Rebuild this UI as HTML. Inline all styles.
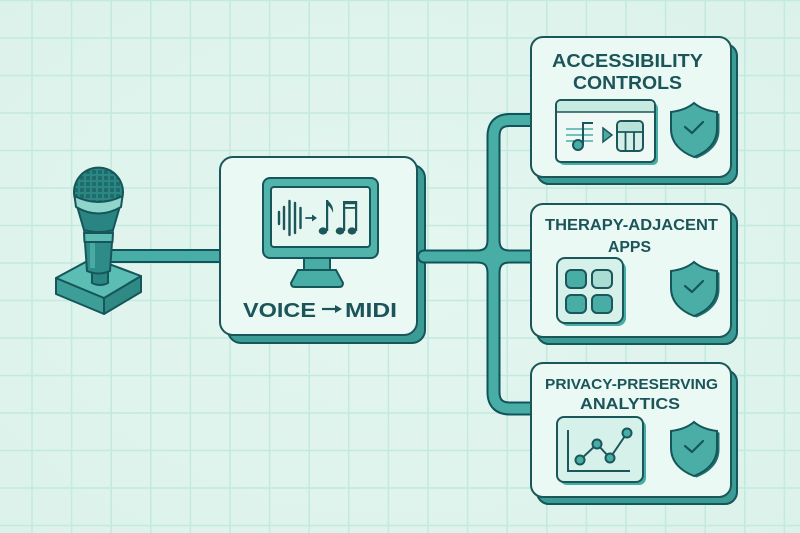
<!DOCTYPE html>
<html><head><meta charset="utf-8"><style>
html,body{margin:0;padding:0;background:#def3ec;}
svg{display:block;}
text{font-family:"Liberation Sans",sans-serif;font-weight:bold;fill:#1b5459;}
</style></head><body>
<svg width="800" height="533" viewBox="0 0 800 533" xmlns="http://www.w3.org/2000/svg">
<defs>
<pattern id="grid" x="31.25" y="37.25" width="39.6" height="37.5" patternUnits="userSpaceOnUse">
<rect x="0" y="0" width="1.5" height="37.5" fill="#c2eadf"/>
<rect x="0" y="0" width="39.6" height="1.5" fill="#c2eadf"/>
</pattern>
<pattern id="mesh" x="1" y="1" width="6" height="6" patternUnits="userSpaceOnUse">
<rect width="6" height="6" fill="#2b8784"/>
<rect x="1" y="1" width="4" height="4" rx="0.8" fill="#1e6b6a"/>
</pattern>
<radialGradient id="bgv" cx="0.5" cy="0.5" r="0.7">
<stop offset="0" stop-color="#e4f6f0"/><stop offset="1" stop-color="#dbf2ea"/>
</radialGradient>
</defs>
<rect width="800" height="533" fill="url(#bgv)"/>
<rect width="800" height="533" fill="url(#grid)"/>

<!-- mic connector -->
<line x1="110" y1="256" x2="225" y2="256" stroke="#11535a" stroke-width="14"/>
<line x1="110" y1="256" x2="225" y2="256" stroke="#48ada5" stroke-width="10"/>

<!-- main box -->
<rect x="228" y="165" width="197" height="178" rx="13" fill="#3b9b95" stroke="#15565b" stroke-width="2"/>
<rect x="220" y="157" width="197" height="178" rx="13" fill="#eaf9f3" stroke="#1b565b" stroke-width="2"/>
<!-- monitor -->
<path d="M304,257 H330 V271 H304 Z" fill="#48ada5" stroke="#15565b" stroke-width="2"/>
<path d="M298,270 H336 L343,283 Q343,287 339,287 H295 Q291,287 291,283 Z" fill="#48ada5" stroke="#15565b" stroke-width="2"/>
<rect x="263" y="178" width="115" height="80" rx="7" fill="#52b3aa" stroke="#15565b" stroke-width="2"/>
<rect x="271" y="187" width="99" height="60" rx="3" fill="#e6f6f0" stroke="#15565b" stroke-width="2"/>
<g stroke="#1b565b" stroke-width="2.4" stroke-linecap="round">
<line x1="279" y1="212" x2="279" y2="224"/>
<line x1="284" y1="207" x2="284" y2="229"/>
<line x1="289.5" y1="201" x2="289.5" y2="235"/>
<line x1="295" y1="203" x2="295" y2="233"/>
<line x1="300.5" y1="208" x2="300.5" y2="228"/>
<line x1="306" y1="218" x2="313" y2="218" stroke-width="1.8"/>
</g>
<path d="M312,214.5 L317,218 L312,221.5 Z" fill="#1b565b"/>
<!-- notes -->
<g fill="#1b565b">
<ellipse cx="323" cy="231" rx="4.3" ry="3.6"/>
<rect x="326" y="200" width="2.2" height="31"/>
<path d="M327,200 Q334,205 333,213 Q331,207 327,205 Z"/>
<ellipse cx="340" cy="231" rx="4.3" ry="3.6"/>
<ellipse cx="352" cy="231" rx="4.3" ry="3.6"/>
<rect x="343" y="201" width="2.2" height="30"/>
<rect x="355" y="201" width="2.2" height="30"/>
<rect x="343" y="201" width="14" height="3.2"/>
<rect x="345" y="207" width="10" height="1.8"/>
</g>
<text x="243" y="317" font-size="20" textLength="73" lengthAdjust="spacingAndGlyphs">VOICE</text>
<line x1="322" y1="309" x2="337" y2="309" stroke="#1b5459" stroke-width="2.2"/>
<path d="M335,305 L342,309 L335,313 Z" fill="#1b5459"/>
<text x="345" y="317" font-size="20" textLength="52" lengthAdjust="spacingAndGlyphs">MIDI</text>

<!-- right connectors -->
<g fill="none" stroke="#11535a" stroke-width="14" stroke-linecap="round">
<path d="M424,256.5 H477 Q493.5,256.5 493.5,240 V136.5 Q493.5,120 510,120 H540" stroke-linecap="butt"/>
<path d="M477,256.5 Q493.5,256.5 493.5,273 V392 Q493.5,408.5 510,408.5 H540" stroke-linecap="butt"/>
<path d="M540,256.5 H510 Q493.5,256.5 493.5,240 M510,256.5 Q493.5,256.5 493.5,273" stroke-linecap="butt"/>
<line x1="424" y1="256.5" x2="478" y2="256.5"/>
</g>
<g fill="none" stroke="#48ada5" stroke-width="10" stroke-linecap="round">
<line x1="424" y1="256.5" x2="478" y2="256.5"/>
</g>
<g fill="none" stroke="#48ada5" stroke-width="10">
<path d="M430,256.5 H477 Q493.5,256.5 493.5,240 V136.5 Q493.5,120 510,120 H540"/>
<path d="M477,256.5 Q493.5,256.5 493.5,273 V392 Q493.5,408.5 510,408.5 H540"/>
<path d="M540,256.5 H510 Q493.5,256.5 493.5,240 M510,256.5 Q493.5,256.5 493.5,273"/>
</g>
<circle cx="493.5" cy="256.5" r="5" fill="#48ada5"/>

<!-- box 1 -->
<rect x="537" y="44" width="200" height="140" rx="12" fill="#3b9b95" stroke="#15565b" stroke-width="2"/>
<rect x="531" y="37" width="200" height="140" rx="12" fill="#eaf9f3" stroke="#1b565b" stroke-width="2"/>
<text x="552" y="67" font-size="18.5" textLength="151" lengthAdjust="spacingAndGlyphs">ACCESSIBILITY</text>
<text x="573" y="89" font-size="18" textLength="109" lengthAdjust="spacingAndGlyphs">CONTROLS</text>
<rect x="559" y="103" width="99" height="62" rx="5" fill="#48ada5"/>
<rect x="556" y="100" width="99" height="62" rx="5" fill="#eef9f5" stroke="#1b565b" stroke-width="2"/>
<path d="M557,112 V105 Q557,101 561,101 H650 Q654,101 654,105 V112 Z" fill="#c8ebe1"/>
<line x1="557" y1="112" x2="654" y2="112" stroke="#1b565b" stroke-width="1.6"/>
<g stroke="#48ada5" stroke-width="1.6">
<line x1="566" y1="129" x2="593" y2="129"/><line x1="566" y1="135" x2="593" y2="135"/><line x1="566" y1="141" x2="593" y2="141"/>
</g>
<circle cx="578" cy="145" r="5" fill="#48ada5" stroke="#1b565b" stroke-width="2"/>
<line x1="583" y1="123" x2="583" y2="145" stroke="#1b565b" stroke-width="2"/>
<line x1="582" y1="123" x2="593" y2="123" stroke="#1b565b" stroke-width="2"/>
<path d="M603,128 L612,135 L603,142 Z" fill="#48ada5" stroke="#1b565b" stroke-width="1.5"/>
<rect x="617" y="121" width="26" height="30" rx="4" fill="#d4efe7" stroke="#1b565b" stroke-width="2"/>
<rect x="618" y="122" width="24" height="10" rx="3" fill="#b9e3d8"/>
<line x1="617" y1="132" x2="643" y2="132" stroke="#1b565b" stroke-width="1.8"/>
<line x1="625.5" y1="132" x2="625.5" y2="150" stroke="#1b565b" stroke-width="1.8"/>
<line x1="634" y1="132" x2="634" y2="150" stroke="#1b565b" stroke-width="1.8"/>
<g transform="translate(671,103)">
<path d="M23,0 C30,6 38,8 46,9 L46,26 C46,40 36,49 23,54 C10,49 0,40 0,26 L0,9 C8,8 16,6 23,0 Z" fill="#1f6f6e" transform="translate(2.5,1.5)"/>
<path d="M23,0 C30,6 38,8 46,9 L46,26 C46,40 36,49 23,54 C10,49 0,40 0,26 L0,9 C8,8 16,6 23,0 Z" fill="#4aaea6" stroke="#15565b" stroke-width="2"/>
<path d="M14,24 L21,30 L32,19" fill="none" stroke="#15565b" stroke-width="2.2" stroke-linecap="round" stroke-linejoin="round"/>
</g>

<!-- box 2 -->
<rect x="537" y="211" width="200" height="133" rx="12" fill="#3b9b95" stroke="#15565b" stroke-width="2"/>
<rect x="531" y="204" width="200" height="133" rx="12" fill="#eaf9f3" stroke="#1b565b" stroke-width="2"/>
<text x="545" y="230" font-size="15.5" textLength="173" lengthAdjust="spacingAndGlyphs">THERAPY-ADJACENT</text>
<text x="608" y="252" font-size="16" textLength="43" lengthAdjust="spacingAndGlyphs">APPS</text>
<rect x="560" y="261" width="66" height="65" rx="8" fill="#48ada5"/>
<rect x="557" y="258" width="66" height="65" rx="8" fill="#d6f1e9" stroke="#1b565b" stroke-width="2"/>
<g stroke="#1b565b" stroke-width="2">
<rect x="566" y="270" width="20" height="18" rx="5" fill="#48ada5"/>
<rect x="592" y="270" width="20" height="18" rx="5" fill="#a9ddd3"/>
<rect x="566" y="295" width="20" height="18" rx="5" fill="#48ada5"/>
<rect x="592" y="295" width="20" height="18" rx="5" fill="#48ada5"/>
</g>
<g transform="translate(671,262)">
<path d="M23,0 C30,6 38,8 46,9 L46,26 C46,40 36,49 23,54 C10,49 0,40 0,26 L0,9 C8,8 16,6 23,0 Z" fill="#1f6f6e" transform="translate(2.5,1.5)"/>
<path d="M23,0 C30,6 38,8 46,9 L46,26 C46,40 36,49 23,54 C10,49 0,40 0,26 L0,9 C8,8 16,6 23,0 Z" fill="#4aaea6" stroke="#15565b" stroke-width="2"/>
<path d="M14,24 L21,30 L32,19" fill="none" stroke="#15565b" stroke-width="2.2" stroke-linecap="round" stroke-linejoin="round"/>
</g>

<!-- box 3 -->
<rect x="537" y="370" width="200" height="134" rx="12" fill="#3b9b95" stroke="#15565b" stroke-width="2"/>
<rect x="531" y="363" width="200" height="134" rx="12" fill="#eaf9f3" stroke="#1b565b" stroke-width="2"/>
<text x="545" y="389" font-size="15" textLength="173" lengthAdjust="spacingAndGlyphs">PRIVACY-PRESERVING</text>
<text x="580" y="409" font-size="16" textLength="100" lengthAdjust="spacingAndGlyphs">ANALYTICS</text>
<rect x="560" y="420" width="86" height="65" rx="7" fill="#48ada5"/>
<rect x="557" y="417" width="86" height="65" rx="7" fill="#d6f1e9" stroke="#1b565b" stroke-width="2"/>
<path d="M568,430 V471 H630" fill="none" stroke="#1b565b" stroke-width="2"/>
<polyline points="580,460 597,444 610,458 627,433" fill="none" stroke="#1b565b" stroke-width="2"/>
<g fill="#48ada5" stroke="#1b565b" stroke-width="2">
<circle cx="580" cy="460" r="4.5"/><circle cx="597" cy="444" r="4.5"/><circle cx="610" cy="458" r="4.5"/><circle cx="627" cy="433" r="4.5"/>
</g>
<g transform="translate(671,422)">
<path d="M23,0 C30,6 38,8 46,9 L46,26 C46,40 36,49 23,54 C10,49 0,40 0,26 L0,9 C8,8 16,6 23,0 Z" fill="#1f6f6e" transform="translate(2.5,1.5)"/>
<path d="M23,0 C30,6 38,8 46,9 L46,26 C46,40 36,49 23,54 C10,49 0,40 0,26 L0,9 C8,8 16,6 23,0 Z" fill="#4aaea6" stroke="#15565b" stroke-width="2"/>
<path d="M14,24 L21,30 L32,19" fill="none" stroke="#15565b" stroke-width="2.2" stroke-linecap="round" stroke-linejoin="round"/>
</g>

<!-- microphone -->
<g stroke="#15565b" stroke-width="2" stroke-linejoin="round">
<path d="M56,278 L104,298 L104,314 L56,294 Z" fill="#3d9e98"/>
<path d="M104,298 L141,276 L141,292 L104,314 Z" fill="#2f8a86"/>
<path d="M56,278 L93,258 L141,276 L104,298 Z" fill="#5bbdb3"/>
<path d="M92,268 H108 V283 Q100,287 92,283 Z" fill="#2a8582"/>
<path d="M84,228 L113,228 L110,271 Q98.5,276 87,271 Z" fill="#2e8c88"/>
<rect x="90" y="242" width="5" height="26" fill="#4aa9a2" stroke="none"/>
<path d="M84,233 L113,233 L112.5,242 L84.5,242 Z" fill="#5ebcb3"/>
<path d="M77,206 Q98.5,220 120,206 L113,230 Q98.5,234 84,230 Z" fill="#2a8582"/>
<path d="M74.5,197 A24.5,24.5 0 1 1 122.5,197 Q98.5,209 74.5,197 Z" fill="url(#mesh)"/>
<path d="M74.5,196 Q98.5,208 122.5,196 L121,207 Q98.5,220 76,207 Z" fill="#8fd5c9"/>
</g>
</svg>
</body></html>
